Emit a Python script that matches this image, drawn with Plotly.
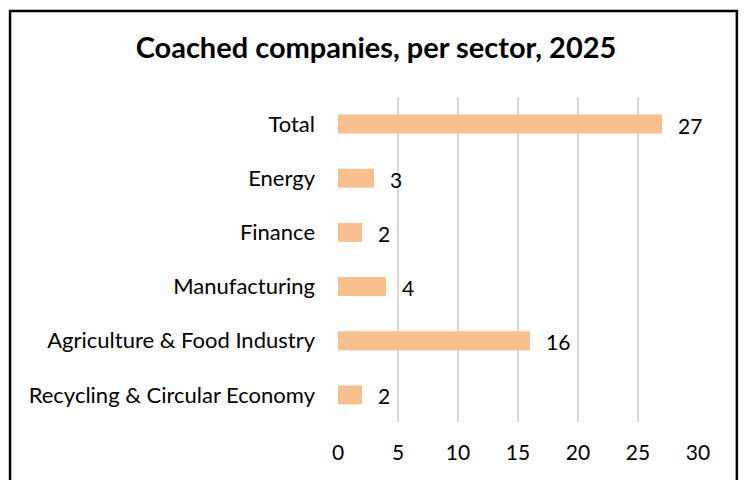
import plotly.graph_objects as go

# Coached companies per sector, 2025
sectors = [
    "Recycling & Circular Economy",
    "Agriculture & Food Industry",
    "Manufacturing",
    "Finance",
    "Energy",
    "Total",
]
companies = [2, 16, 4, 2, 3, 27]
x_ticks = [0, 5, 10, 15, 20, 25, 30]

BAR_COLOR = "#F9C08F"
FONT = "Lato, Carlito, Liberation Sans, sans-serif"

fig = go.Figure(
    go.Bar(
        x=companies,
        y=sectors,
        orientation="h",
        marker=dict(color=BAR_COLOR, line=dict(width=0)),
        width=0.35,
        hoverinfo="x+y",
    )
)

# Value labels to the right of each bar
for s, v in zip(sectors, companies):
    fig.add_annotation(
        x=v, y=s, text=str(v), showarrow=False,
        xanchor="left", xshift=14, yshift=-1,
        font=dict(family=FONT, size=21, color="#000000"),
    )

# Outer chart frame
fig.add_shape(
    type="rect", xref="paper", yref="paper",
    x0=-0.911, x1=1.108, y0=-0.3, y1=1.265,
    line=dict(color="#000000", width=2.5), fillcolor="rgba(0,0,0,0)",
    layer="below",
)

fig.update_layout(
    width=745, height=480,
    margin=dict(l=338, r=47, t=97, b=58),
    paper_bgcolor="white", plot_bgcolor="white",
    title=dict(
        text="<b>Coached companies, per sector, 2025</b>",
        x=376 / 745, xref="container", xanchor="center",
        y=1 - 48 / 480, yanchor="middle",
        font=dict(family=FONT, size=29, color="#000000"),
    ),
    showlegend=False,
)

fig.update_xaxes(
    range=[0, 30], tickvals=x_ticks, ticktext=[str(t) for t in x_ticks],
    showgrid=True, gridcolor="#D9D9D9", gridwidth=1.5,
    zeroline=False, showline=False, ticks="",
    tickfont=dict(family=FONT, size=21, color="#000000"),
    ticklabelstandoff=16,
    fixedrange=True,
)
fig.update_yaxes(
    categoryorder="array", categoryarray=sectors,
    showgrid=False, zeroline=False, showline=False, ticks="",
    tickfont=dict(family=FONT, size=22, color="#000000"),
    ticklabelstandoff=22,
    fixedrange=True,
)

fig.write_html("out.html")
